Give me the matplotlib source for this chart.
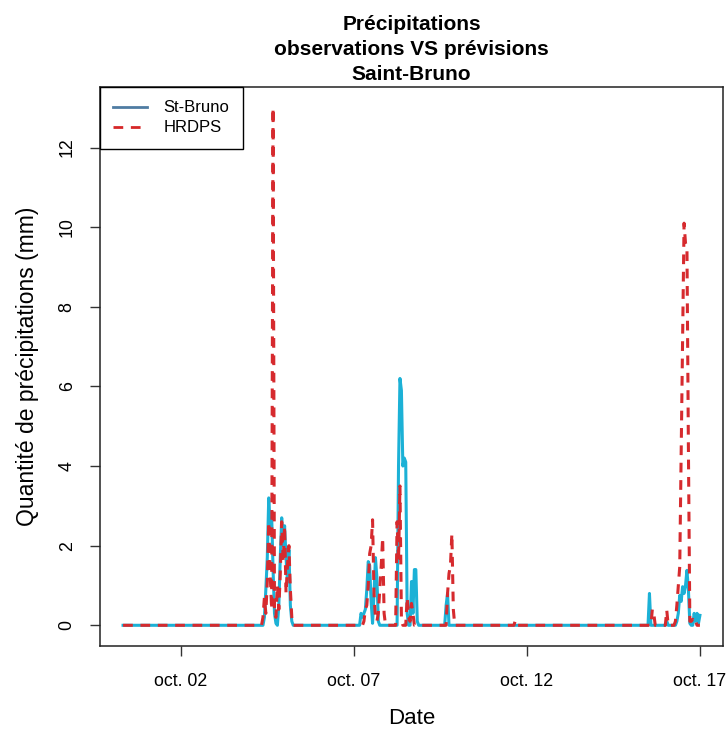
import numpy as np
import pandas as pan
import matplotlib
matplotlib.use("Agg")
from matplotlib import pyplot as plt
from matplotlib.lines import Line2D
import matplotlib.dates as mdates

plt.rcParams['font.family'] = ['Liberation Sans', 'DejaVu Sans']
plt.rcParams['lines.scale_dashes'] = False

# hourly record, zero outside the rainy bursts listed below
start_time = "2022-09-30 08:00"
end_time = "2022-10-17 00:00"

# St-Bruno observations: burst start + hourly values (mm)
obs_starts = ["2022-10-04 10:00", "2022-10-07 05:00", "2022-10-08 06:00",
              "2022-10-09 16:00", "2022-10-15 13:00", "2022-10-16 01:00",
              "2022-10-16 08:00"]
obs_values = [
    [0.2, 0.9, 1.7, 3.2, 2.5, 2.8, 1.4, 0.3, 0.05, 0.0, 0.5, 1.7, 2.7, 2.0, 2.5, 1.7, 1.1, 1.9, 0.5, 0.1],
    [0.3, 0.2, 0.3, 0.4, 0.9, 1.6, 1.5, 0.6, 0.05, 0.8, 1.7, 1.2, 0.1],
    [0.0, 4.0, 6.2, 5.9, 4.0, 4.2, 4.1, 0.3, 0.0, 0.0, 1.1, 0.3, 1.4, 1.4, 0.1],
    [0.5, 0.8],
    [0.8],
    [0.1],
    [0.1, 0.3, 0.75, 0.6, 0.97, 0.8, 1.0, 1.38, 0.9, 0.05, 0.0, 0.0, 0.3, 0.1, 0.3, 0.05, 0.25],
]

# HRDPS forecasts: burst start + hourly values (mm)
hrdps_starts = ["2022-10-04 09:00", "2022-10-07 07:00", "2022-10-08 06:00",
                "2022-10-09 17:00", "2022-10-11 16:00", "2022-10-15 15:00",
                "2022-10-16 01:00", "2022-10-16 07:00"]
hrdps_values = [
    [0.2, 0.7, 0.3, 1.1, 2.6, 1.3, 0.4, 13.0, 0.3, 0.2, 1.0, 0.4, 1.3, 2.6, 1.6, 2.5, 0.8, 1.5, 2.0, 0.9, 0.2],
    [0.1, 0.4, 0.5, 1.0, 1.8, 2.0, 2.65, 0.8, 0.2, 0.1, 0.3, 0.9, 1.5, 2.2, 0.3],
    [2.6, 1.6, 3.5, 0.2, 0.0, 0.0, 0.0, 0.7, 0.2, 0.1, 0.55, 0.3],
    [0.8, 1.3, 1.5, 2.3, 0.4],
    [0.12],
    [0.4, 0.3],
    [0.38],
    [0.1, 0.5, 0.97, 1.47, 4.3, 7.2, 10.1, 9.6, 9.5, 4.5, 0.1, 0.1, 0.15, 0.05, 0.1],
]

tick_dates = ["2022-10-02", "2022-10-07", "2022-10-12", "2022-10-17"]
tick_labels = ["oct. 02", "oct. 07", "oct. 12", "oct. 17"]
y_ticks = [0, 2, 4, 6, 8, 10, 12]


def build_series(starts, values):
    idx = pan.date_range(start_time, end_time, freq="h")
    s = pan.Series(0.0, index=idx)
    for st, vals in zip(starts, values):
        t = pan.date_range(st, periods=len(vals), freq="h")
        s.loc[t] = vals
    return s


obs = build_series(obs_starts, obs_values)
hrdps = build_series(hrdps_starts, hrdps_values)

blue = '#1cb1d6'
red = '#d62a2e'

fig = plt.figure(figsize=(7.27, 7.31), dpi=100)
ax = fig.add_axes([100/727, 1-646/731, 623/727, (646-87)/731])

ax.plot(obs.index, obs.values, color=blue, lw=2.2, solid_joinstyle='round')
ax.plot(hrdps.index, hrdps.values, color=red, lw=2.2, dashes=(7, 5.5))

# R style 4% axis expansion
x0 = mdates.date2num(obs.index[0])
x1 = mdates.date2num(obs.index[-1])
ax.set_xlim(x0 - 0.04*(x1-x0), x1 + 0.04*(x1-x0))
ymax = max(obs.max(), hrdps.max())
ax.set_ylim(-0.04*ymax, ymax*1.04)

ax.set_xticks([mdates.date2num(pan.Timestamp(d)) for d in tick_dates])
ax.set_xticklabels(tick_labels)
ax.set_yticks(y_ticks)
ax.set_yticklabels([str(v) for v in y_ticks], rotation=90, va='center')
ax.tick_params(axis='both', labelsize=12.8, length=7, width=1, color='#333333', direction='out')
ax.tick_params(axis='x', pad=12.5)
ax.tick_params(axis='y', pad=10.5)
for sp in ax.spines.values():
    sp.set_linewidth(1.1)
    sp.set_color('#222222')

ax.set_xlabel("Date", fontsize=16, labelpad=13)
ax.set_ylabel("Quantité de précipitations (mm)", fontsize=16.5, labelpad=14)
ax.set_title("Précipitations\nobservations VS prévisions\nSaint-Bruno",
             fontsize=15, fontweight='bold', linespacing=1.4, pad=5)

handles = [Line2D([], [], color='#4f7ca2', lw=2),
           Line2D([], [], color='#d62728', lw=2, dashes=(7, 5.5))]
leg = ax.legend(handles, ["St-Bruno", "HRDPS"], loc='upper left', fontsize=12,
                borderaxespad=0, fancybox=False, framealpha=1, edgecolor='black',
                handlelength=2.0, handletextpad=1.0, borderpad=0.8, labelspacing=0.3)
leg.get_frame().set_linewidth(1.0)

plt.savefig("out.png", dpi=100)
